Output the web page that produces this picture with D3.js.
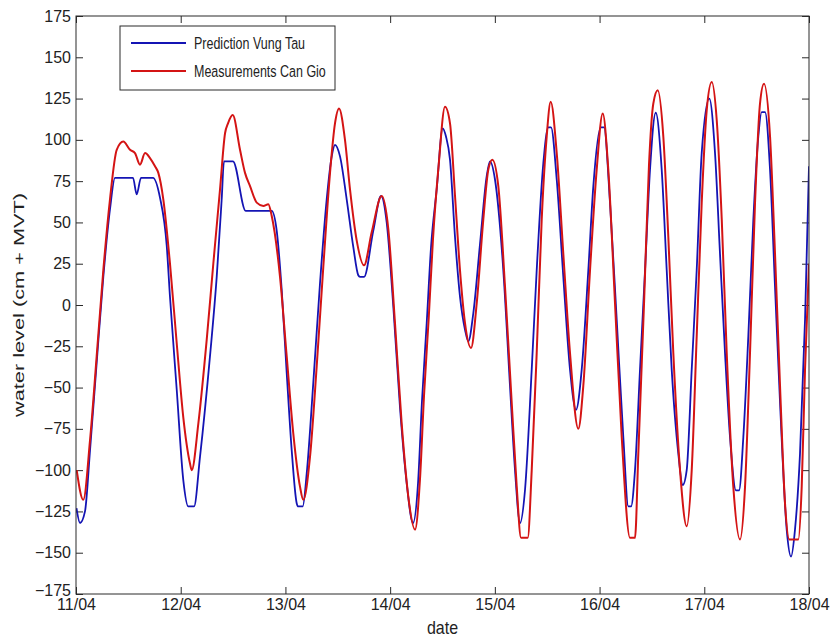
<!DOCTYPE html>
<html><head><meta charset="utf-8">
<script src="https://cdn.jsdelivr.net/npm/d3@7"></script>
<style>
body{margin:0;background:#fff;}
text{font-family:Arial,"Liberation Sans",Helvetica,sans-serif;fill:#222;}
</style></head>
<body><svg id="c" width="830" height="639"></svg>
<script>
// hours since 11/04 00:00
const dayLabels = ["11/04","12/04","13/04","14/04","15/04","16/04","17/04","18/04"];
const dayHours = [0,24,48,72,96,120,144,168];
const yTicks = [-175,-150,-125,-100,-75,-50,-25,0,25,50,75,100,125,150,175];
const seriesNames = ["Prediction Vung Tau","Measurements Can Gio"];

const predictionVungTau = [
[0.11,-123],[0.92,-132],[2.06,-125],[3.21,-88],[4.74,-35],[6.26,17],[7.79,58],[8.94,77],
[13.06,77],[13.91,67],[14.90,77],[17.65,77],[19.25,65],[20.79,36],[21.54,5],[23.08,-51],
[24.59,-106],[25.74,-122],[27.05,-122],[28.42,-92],[30.71,-31],[32.25,17],[33.39,64],[33.92,87],
[35.98,87],[38.90,57],[44.85,57],[46.00,45],[47.15,9],[48.29,-41],[49.44,-88],[50.58,-120],
[50.95,-122],[51.96,-122],[52.88,-102],[54.39,-47],[55.92,13],[57.46,64],[58.61,90],[59.36,97],
[60.51,90],[62.04,64],[63.56,35],[64.70,18],[65.09,17],[66.01,17],[68.14,45],[69.91,66],
[71.21,50],[72.73,-1],[74.26,-62],[75.80,-108],[77.24,-132],[78.39,-108],[79.30,-58],[80.38,-11],
[81.37,35],[82.67,70],[84.05,107],[84.80,102],[85.72,88],[86.87,41],[88.01,5],[89.16,-15],
[89.92,-22],[91.06,-5],[92.60,37],[94.13,78],[94.89,87],[96.03,76],[97.94,21],[99.47,-49],
[100.62,-100],[101.77,-132],[102.91,-112],[104.45,-39],[105.59,21],[107.11,86],[108.25,107.6],[108.87,107.6],
[110.18,76],[111.69,17],[113.22,-39],[114.60,-63.5],[115.91,-39],[117.42,21],[118.57,72],[120.26,107.6],
[121.02,107.6],[122.39,62],[123.93,-9],[125.44,-80],[126.59,-122],[127.21,-122],[128.12,-100],[129.27,-39],
[130.42,21],[131.56,82],[132.87,116.4],[134.24,82],[135.39,21],[136.53,-39],[138.05,-90],[139.06,-109],
[139.97,-100],[141.12,-39],[142.26,21],[143.41,92],[145.15,125],[146.46,92],[147.60,31],[148.75,-29],
[149.90,-80],[151.27,-112.3],[151.96,-112.3],[152.95,-80],[154.09,-19],[155.24,51.5],[156.38,102],[157.16,116.8],
[157.92,116.8],[159.07,82],[160.21,11],[161.36,-59],[162.89,-136],[163.88,-152.3],[164.79,-136],[165.94,-90],
[167.09,-9],[168.0,84]
];

const measurementsCanGio = [
[0.16,-100],[1.67,-118],[3.21,-82],[4.74,-31],[6.26,21],[7.79,64],[9.33,94],[10.84,99],
[12.38,94],[13.52,92],[14.67,85],[15.82,92],[16.96,89],[18.11,84],[18.87,80],[20.01,64],
[21.54,25],[23.08,-23],[24.59,-68],[26.13,-96],[26.52,-100],[28.03,-72],[29.96,-21],[31.47,25],
[33.01,70],[34.16,104],[34.84,110],[35.92,115],[37.59,94],[38.74,80],[39.89,72],[41.42,62],
[42.94,60],[44.08,61],[44.85,54],[46.76,17],[48.29,-31],[49.81,-78],[51.34,-110],[52.10,-118],
[53.63,-92],[55.17,-37],[56.68,23],[58.22,80],[59.36,110],[60.28,119],[61.65,100],[62.80,70],
[64.34,39],[66.01,24],[67.77,44],[70.07,66],[71.58,46],[73.11,-11],[74.65,-72],[76.16,-116],
[77.70,-136],[78.85,-105],[79.76,-55],[80.84,-8],[81.82,40],[83.13,85],[84.57,120],[85.72,110],
[86.87,66],[88.01,21],[89.16,-11],[90.54,-26],[91.84,1],[93.36,52],[94.50,82],[95.42,88],
[96.79,72],[98.33,11],[99.86,-59],[101.01,-110],[102.0,-141],[103.53,-141],[104.45,-100],[105.59,-29],
[106.74,52],[107.88,102],[108.80,123],[110.18,92],[111.69,31],[113.22,-29],[115.13,-75],[116.27,-49],
[117.81,21],[119.34,82],[120.72,116],[122.0,82],[123.54,1],[125.08,-80],[126.98,-141],[128.12,-141],
[128.88,-90],[130.19,1],[131.33,85],[132.32,122],[133.33,130],[134.61,102],[135.76,41],[136.90,-29],
[138.44,-100],[139.97,-134],[141.12,-100],[142.26,-19],[143.41,62],[144.56,118],[145.71,135],[146.85,112],
[148.0,52],[149.14,-29],[150.65,-110],[152.19,-142],[153.34,-110],[154.48,-29],[155.63,62],[156.77,122],
[157.69,134],[159.07,102],[160.21,31],[161.36,-49],[162.50,-120],[163.49,-142],[165.55,-142],[166.33,-110],
[167.09,-39],[168.0,25]
];

const W = 830, H = 639;
const m = {left:76, top:16, right:21, bottom:45};
const iw = W - m.left - m.right, ih = H - m.top - m.bottom;
const svg = d3.select("#c");
const g = svg.append("g").attr("transform",`translate(${m.left},${m.top})`);

const x = d3.scaleLinear().domain([0,168]).range([0,iw]);
const y = d3.scaleLinear().domain([-175,175]).range([ih,0]);

g.append("rect").attr("width",iw).attr("height",ih).attr("fill","#fff");

const axisColor = "#2a2a2a";
function styleAxis(sel){
  sel.select(".domain").remove();
  sel.selectAll(".tick line").attr("stroke",axisColor);
  sel.selectAll(".tick text").attr("font-size","16px").attr("fill","#222");
}
const fmtDay = d => dayLabels[dayHours.indexOf(d)];
g.append("g").attr("transform",`translate(0,${ih})`)
  .call(d3.axisBottom(x).tickValues(dayHours).tickFormat(fmtDay).tickSizeInner(-7).tickSizeOuter(0).tickPadding(5))
  .call(styleAxis);
g.append("g")
  .call(d3.axisTop(x).tickValues(dayHours).tickFormat("").tickSizeInner(-7).tickSizeOuter(0))
  .call(styleAxis);
const yAxisG = g.append("g")
  .call(d3.axisLeft(y).tickValues(yTicks).tickSizeInner(-7).tickSizeOuter(0).tickPadding(5))
  .call(styleAxis);
// nudge the lowest y label up a little so it clears the first date label
yAxisG.selectAll(".tick").filter(d => d === -175).select("text").attr("dy","0.1em");
g.append("g").attr("transform",`translate(${iw},0)`)
  .call(d3.axisRight(y).tickValues(yTicks).tickFormat("").tickSizeInner(-7).tickSizeOuter(0))
  .call(styleAxis);

g.append("clipPath").attr("id","clp").append("rect").attr("width",iw).attr("height",ih);
const line = d3.line().x(d=>x(d[0])).y(d=>y(d[1])).curve(d3.curveMonotoneX);
const blue = "#1414b4", red = "#d41414";
g.append("path").datum(predictionVungTau).attr("d",line).attr("fill","none")
  .attr("stroke",blue).attr("stroke-width",1.8).attr("clip-path","url(#clp)");
g.append("path").datum(measurementsCanGio).attr("d",line).attr("fill","none")
  .attr("stroke",red).attr("stroke-width",2).attr("clip-path","url(#clp)");

// frame
g.append("rect").attr("width",iw).attr("height",ih).attr("fill","none").attr("stroke",axisColor).attr("stroke-width",1);

// legend
const lg = svg.append("g").attr("transform","translate(120,26)");
lg.append("rect").attr("width",215).attr("height",64).attr("fill","#fff").attr("stroke",axisColor).attr("stroke-width",1);
[[blue,seriesNames[0],17],[red,seriesNames[1],45]].forEach(([c,t,yy])=>{
  lg.append("line").attr("x1",11).attr("x2",66).attr("y1",yy).attr("y2",yy).attr("stroke",c).attr("stroke-width",1.8);
  lg.append("text").attr("transform",`translate(74,${yy+6}) scale(1,1.35)`).attr("font-size","12.5px").text(t);
});

// axis labels
svg.append("text").attr("transform",`translate(${m.left+iw/2},634) scale(1,1.2)`).attr("text-anchor","middle").attr("font-size","16px").text("date");
svg.append("text").attr("transform",`translate(24,${m.top+ih/2}) rotate(-90) scale(1.45,1)`).attr("text-anchor","middle").attr("font-size","15px").text("water level (cm + MVT)");
</script></body></html>
